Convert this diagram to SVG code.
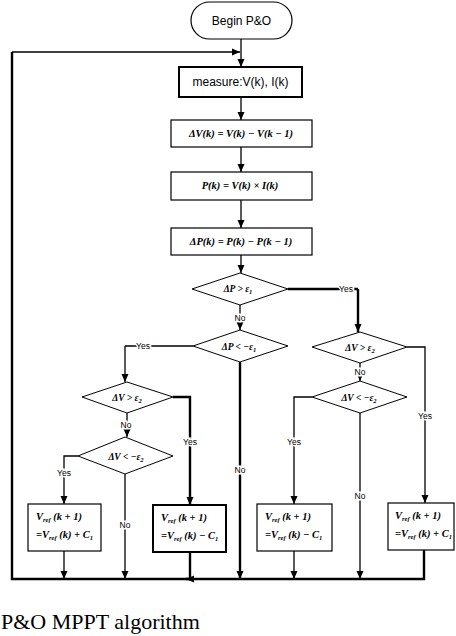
<svg xmlns="http://www.w3.org/2000/svg" width="456" height="636" viewBox="0 0 456 636">
<defs>
<marker id="ah" markerUnits="userSpaceOnUse" markerWidth="8" markerHeight="8" viewBox="0 0 8 8" refX="8" refY="4" orient="auto">
<path d="M0,0.5 L8,4 L0,7.5 z" fill="#000"/>
</marker>
<style>
.n{fill:#fff;stroke:#000;stroke-width:1.2}
.d{fill:#fff;stroke:#000;stroke-width:1}
.c{fill:none;stroke:#000;stroke-width:1.3}
.ck{fill:none;stroke:#000;stroke-width:2.4}
.a{marker-end:url(#ah)}
.s{font-family:"Liberation Sans",Arial,sans-serif;fill:#000;text-anchor:middle}
.lb{font-family:"Liberation Sans",Arial,sans-serif;font-size:8.5px;fill:#000;text-anchor:middle;paint-order:stroke;stroke:#fff;stroke-width:3}
.m{font-family:"Liberation Serif","Times New Roman",serif;font-style:italic;font-weight:bold;fill:#000}
.sub{font-size:6.5px}
</style>
</defs>
<rect width="456" height="636" fill="#fff"/>

<g id="connectors">
<path class="c a" d="M241,39 V67"/>
<path class="c a" d="M241,97 V120"/>
<path class="c a" d="M241,147 V172"/>
<path class="c a" d="M241,200 V228"/>
<path class="c a" d="M241,255 V273"/>
<path class="ck" d="M288,289 H358"/>
<path class="ck a" d="M358,289 V332"/>
<path class="c a" d="M240,305 V330"/>
<path class="c" d="M193,346 H125"/>
<path class="c a" d="M125,346 V382"/>
<path class="ck a" d="M240,362 V579"/>
<path class="c a" d="M360,363 V381"/>
<path class="c a" d="M407,347 H425 V503"/>
<path class="ck a" d="M173,397 H190 V505"/>
<path class="c a" d="M127,413 V437"/>
<path class="c a" d="M78,456 H64 V504"/>
<path class="c a" d="M125,474 V579"/>
<path class="c a" d="M312,397 H294 V504"/>
<path class="c a" d="M360,413 V579"/>
<path class="c a" d="M64,551 V579"/>
<path class="ck" d="M190,552 V579"/>
<path class="c a" d="M294,551 V579"/>
<path class="ck a" d="M424,550 V579 H186"/>
<path class="ck" d="M190,579 H12 V52"/>
<path class="c a" d="M12,52 H240"/>
</g>

<g id="begin">
<rect x="191" y="2" width="101" height="37" rx="18.5" class="n"/>
<text x="241.5" y="25" class="s" font-size="12">Begin P&amp;O</text>
</g>

<g id="measure">
<rect x="179" y="67" width="123" height="30" fill="#fff" stroke="#000" stroke-width="2"/>
<text x="240.5" y="86" class="s" font-size="12">measure:V(k), I(k)</text>
</g>

<g id="deltaV">
<rect x="171" y="120" width="141" height="27" class="n"/>
<text x="241" y="137" class="m" font-size="10.5" text-anchor="middle">ΔV(k) = V(k) − V(k − 1)</text>
</g>

<g id="power">
<rect x="171" y="172" width="141" height="28" class="n" stroke-width="1.6"/>
<text x="240" y="189" class="m" font-size="10.5" text-anchor="middle">P(k) = V(k) × I(k)</text>
</g>

<g id="deltaP">
<rect x="171" y="228" width="141" height="27" class="n"/>
<text x="241" y="245" class="m" font-size="10.5" text-anchor="middle">ΔP(k) = P(k) − P(k − 1)</text>
</g>

<g id="dec1">
<polygon points="192,289 240,273 288,289 240,305" class="d"/>
<text x="238" y="292" class="m" font-size="9.5" text-anchor="middle">ΔP &gt; ε<tspan class="sub" dy="2">1</tspan></text>
</g>

<g id="dec2">
<polygon points="193,346 240,330 288,346 240,362" class="d"/>
<text x="239" y="350" class="m" font-size="9.5" text-anchor="middle">ΔP &lt; −ε<tspan class="sub" dy="2">1</tspan></text>
</g>

<g id="dec3">
<polygon points="312,347 360,332 407,347 360,363" class="d"/>
<text x="360" y="351" class="m" font-size="9.5" text-anchor="middle">ΔV &gt; ε<tspan class="sub" dy="2">2</tspan></text>
</g>

<g id="dec4">
<polygon points="82,397 127,382 173,397 127,413" class="d"/>
<text x="127" y="401" class="m" font-size="9.5" text-anchor="middle">ΔV &gt; ε<tspan class="sub" dy="2">2</tspan></text>
</g>

<g id="dec5">
<polygon points="78,456 125,437 173,456 125,474" class="d"/>
<text x="126" y="460" class="m" font-size="9.5" text-anchor="middle">ΔV &lt; −ε<tspan class="sub" dy="2">2</tspan></text>
</g>

<g id="dec6">
<polygon points="312,397 360,381 407,397 360,413" class="d"/>
<text x="359" y="401" class="m" font-size="9.5" text-anchor="middle">ΔV &lt; −ε<tspan class="sub" dy="2">2</tspan></text>
</g>

<g id="boxA">
<rect x="28" y="504" width="73" height="47" class="n"/>
<text x="36" y="520" class="m" font-size="10.5">V<tspan class="sub" dy="2">ref</tspan><tspan dy="-2"> (k + 1)</tspan></text>
<text x="36" y="538" class="m" font-size="10.5">=V<tspan class="sub" dy="2">ref</tspan><tspan dy="-2"> (k) + C</tspan><tspan class="sub" dy="2">1</tspan></text>
</g>

<g id="boxB">
<rect x="153" y="505" width="73" height="47" fill="#fff" stroke="#000" stroke-width="2"/>
<text x="161" y="521" class="m" font-size="10.5">V<tspan class="sub" dy="2">ref</tspan><tspan dy="-2"> (k + 1)</tspan></text>
<text x="161" y="539" class="m" font-size="10.5">=V<tspan class="sub" dy="2">ref</tspan><tspan dy="-2"> (k) − C</tspan><tspan class="sub" dy="2">1</tspan></text>
</g>

<g id="boxC">
<rect x="257" y="504" width="75" height="47" class="n" stroke-width="1.5"/>
<text x="265" y="520" class="m" font-size="10.5">V<tspan class="sub" dy="2">ref</tspan><tspan dy="-2"> (k + 1)</tspan></text>
<text x="265" y="538" class="m" font-size="10.5">=V<tspan class="sub" dy="2">ref</tspan><tspan dy="-2"> (k) − C</tspan><tspan class="sub" dy="2">1</tspan></text>
</g>

<g id="boxD">
<rect x="388" y="503" width="66" height="47" class="n" stroke-width="1.5"/>
<text x="395" y="519" class="m" font-size="10.5">V<tspan class="sub" dy="2">ref</tspan><tspan dy="-2"> (k + 1)</tspan></text>
<text x="395" y="537" class="m" font-size="10.5">=V<tspan class="sub" dy="2">ref</tspan><tspan dy="-2"> (k) + C</tspan><tspan class="sub" dy="2">1</tspan></text>
</g>

<g id="labels">
<text x="346" y="292" class="lb">Yes</text>
<text x="240" y="321" class="lb">No</text>
<text x="143" y="349" class="lb">Yes</text>
<text x="240" y="473" class="lb">No</text>
<text x="360" y="375" class="lb">No</text>
<text x="425" y="419" class="lb">Yes</text>
<text x="190" y="445" class="lb">Yes</text>
<text x="126" y="428" class="lb">No</text>
<text x="64" y="476" class="lb">Yes</text>
<text x="125" y="528" class="lb">No</text>
<text x="294" y="445" class="lb">Yes</text>
<text x="360" y="499" class="lb">No</text>
</g>

<text x="1" y="629" font-family="'Liberation Serif','Times New Roman',serif" font-size="22" fill="#000">P&amp;O MPPT algorithm</text>
</svg>
